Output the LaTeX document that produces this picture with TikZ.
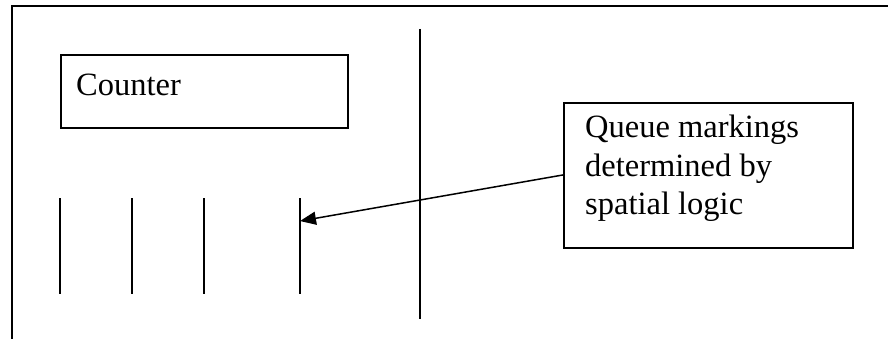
\documentclass[tikz,border=0pt]{standalone}
\usepackage{fontspec}
\setmainfont{Liberation Serif}
\usetikzlibrary{arrows.meta,calc}
\begin{document}
\begin{tikzpicture}[x=1pt,y=-1pt,
  ln/.style={line width=1.8pt,black},
  box/.style={draw,line width=1.8pt,anchor=north west,inner sep=0pt},
  txt/.style={anchor=base west,inner sep=0pt,font=\fontsize{32.5}{38}\selectfont}]
\useasboundingbox (0,0) rectangle (888,339);
% outer frame
\coordinate (fb) at (12,339);
\coordinate (ftl) at (12,6);
\coordinate (fr) at (888,6);
\draw[ln] (fb) -- (ftl) -- (fr);
% counter box
\node[box,minimum width=287pt,minimum height=73pt] (cbox) at (60,54) {};
\node[txt] (ctext) at (76,96) {Counter};
% divider
\coordinate (dt) at (420,29);
\coordinate (db) at (420,319);
\draw[ln] (dt) -- (db);
% queue markings
\foreach \i/\x in {1/60,2/132,3/204,4/300}{
  \coordinate (m\i t) at (\x,198);
  \coordinate (m\i b) at (\x,294);
  \draw[ln] (m\i t) -- (m\i b);
}
% note box
\node[box,minimum width=289pt,minimum height=145pt] (qbox) at (563,102) {};
\node[txt] (q1) at (585,138) {Queue markings};
\node[txt] (q2) at (585,176) {determined by};
\node[txt] (q3) at (585,214) {spatial logic};
\coordinate (astart) at ($(qbox.north west)!0.497!(qbox.south west)$);
\coordinate (aend) at ($(m4t)!0.24!(m4b)$);
\draw[line width=1.5pt,-{Triangle[length=16pt,width=13pt]}] (astart) -- (aend);
\end{tikzpicture}
\end{document}
